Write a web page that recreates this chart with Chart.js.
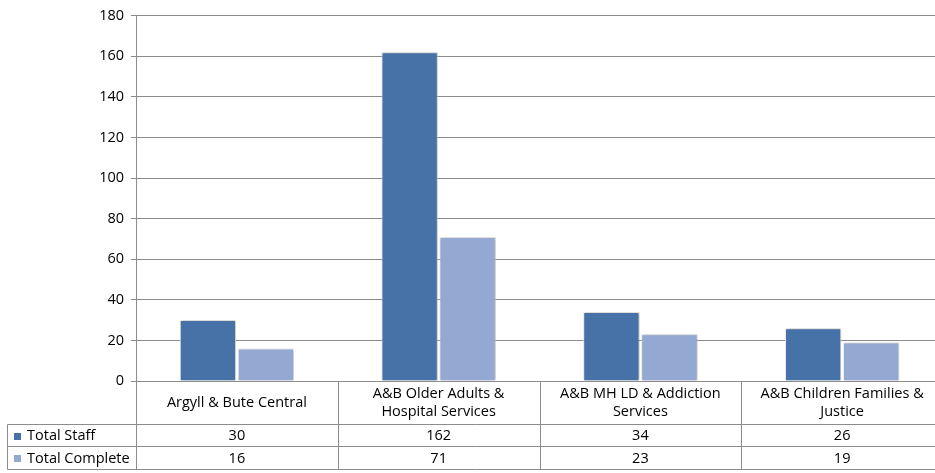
<!DOCTYPE html>
<html><head><meta charset="utf-8">
<script src="https://cdn.jsdelivr.net/npm/chart.js@4/dist/chart.umd.min.js"></script>
<style>html,body{margin:0;padding:0;background:#fff;overflow:hidden;}#wrap{width:935px;height:473px;position:relative;overflow:hidden;}</style>
</head><body><div id="wrap"><canvas id="c" width="943" height="473"></canvas></div>
<script>
const categories = [["Argyll & Bute Central"],["A&B Older Adults &","Hospital Services"],["A&B MH LD & Addiction","Services"],["A&B Children Families &","Justice"]];
const seriesNames = ["Total Staff","Total Complete"];
const totalStaff = [30,162,34,26];
const totalComplete = [16,71,23,19];
const colors = ["#4672A8","#94A9D1"];
const FONT = "'Open Sans', sans-serif";

const tablePlugin = {
  id:'tablePlugin',
  beforeDatasetsDraw(chart){
    const ctx = chart.ctx; ctx.save();
    ctx.shadowColor='rgba(0,0,0,0.28)'; ctx.shadowBlur=3; ctx.shadowOffsetX=1; ctx.shadowOffsetY=0;
  },
  afterDatasetsDraw(chart){ chart.ctx.restore(); },
  afterDraw(chart){
    const ctx = chart.ctx, x = chart.scales.x, a = chart.chartArea;
    const n = categories.length;
    const w = (a.right - a.left)/n;
    const rowTop = a.bottom, r1 = 424.5, r2 = 446.5, r3 = 469.5, leftX = 7.5;
    ctx.save();
    ctx.strokeStyle = '#8c8c8c'; ctx.lineWidth = 1;
    ctx.beginPath();
    for (let i=0;i<=n;i++){
      const px = Math.round(a.left + i*w) + 0.5;
      ctx.moveTo(px, rowTop); ctx.lineTo(px, r3);
    }
    ctx.moveTo(leftX, r1); ctx.lineTo(leftX, r3);
    [r1,r2,r3].forEach(y=>{ctx.moveTo(leftX,y);ctx.lineTo(a.right,y);});
    ctx.stroke();
    ctx.fillStyle = '#000'; ctx.font = '14.5px '+FONT; ctx.textAlign='center'; ctx.textBaseline='middle';
    for (let i=0;i<n;i++){
      const cx = x.getPixelForValue(i);
      const lines = categories[i];
      const mid = (rowTop + r1)/2;
      const lh = 18;
      lines.forEach((t,k)=>{ ctx.fillText(t, cx, mid + (k - (lines.length-1)/2)*lh); });
      ctx.fillText(String(totalStaff[i]), cx, (r1+r2)/2+0.5);
      ctx.fillText(String(totalComplete[i]), cx, (r2+r3)/2+0.5);
    }
    ctx.textAlign='left';
    [[seriesNames[0],colors[0],(r1+r2)/2],[seriesNames[1],colors[1],(r2+r3)/2]].forEach(([t,c,y])=>{
      ctx.fillStyle=c; ctx.fillRect(14, Math.round(y)-3, 7, 7);
      ctx.fillStyle='#000'; ctx.fillText(t, 27, y+0.5);
    });
    ctx.restore();
  }
};

new Chart(document.getElementById('c'), {
  type:'bar',
  data:{
    labels: categories.map(c=>c.join(' ')),
    datasets:[
      {label:seriesNames[0], data:totalStaff, backgroundColor:colors[0], borderColor:'#f2f2f2', borderWidth:1, barPercentage:0.97, categoryPercentage:0.575},
      {label:seriesNames[1], data:totalComplete, backgroundColor:colors[1], borderColor:'#f2f2f2', borderWidth:1, barPercentage:0.97, categoryPercentage:0.575}
    ]
  },
  options:{
    responsive:false, animation:false,
    layout:{padding:{top:3.5,right:0,left:0,bottom:0}},
    plugins:{legend:{display:false},tooltip:{enabled:false}},
    scales:{
      x:{
        ticks:{display:false},
        grid:{display:false, drawTicks:false},
        border:{display:true,color:'#8c8c8c'},
        afterFit(s){ s.height = 92; }
      },
      y:{
        min:0,max:180,
        ticks:{stepSize:20,color:'#000',font:{size:14.5,family:FONT},padding:7},
        grid:{color:'#8c8c8c',tickLength:5},
        border:{display:true,color:'#8c8c8c'},
        afterFit(s){ s.width = 136; }
      }
    }
  },
  plugins:[tablePlugin]
});
</script></body></html>
